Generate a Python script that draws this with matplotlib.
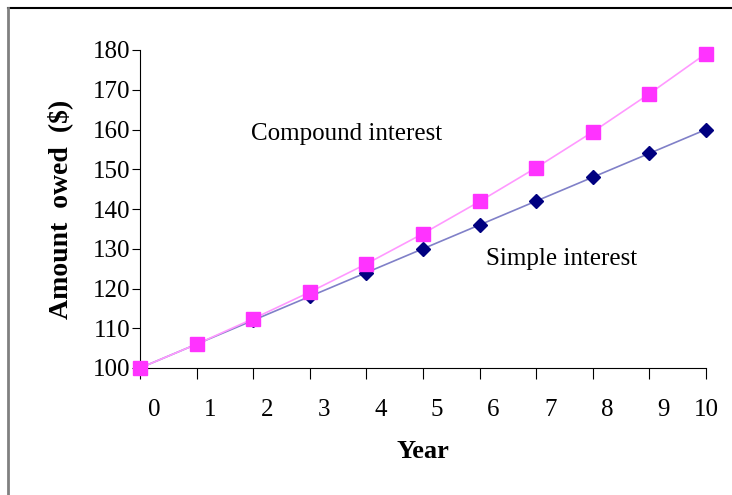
import matplotlib.pyplot as plt
from matplotlib.lines import Line2D
import matplotlib.transforms as mtransforms

years = [0, 1, 2, 3, 4, 5, 6, 7, 8, 9, 10]
simple = [100, 106, 112, 118, 124, 130, 136, 142, 148, 154, 160]
compound = [100, 106, 112.4, 119.1, 126.2, 133.8, 141.9, 150.4, 159.4, 169.0, 179.1]

plt.rcParams['font.family'] = ['Liberation Serif', 'DejaVu Serif']

fig = plt.figure(figsize=(7.32, 4.95), dpi=100)
W, H = 732, 495
ax = fig.add_axes([140 / W, 1 - 368 / H, (706 - 140) / W, (368 - 50) / H])

ax.plot(years, simple, color='#8080c8', lw=1.2, marker='D', markersize=7,
        markerfacecolor='#000080', markeredgecolor='#000080', zorder=3,
        clip_on=False)
ax.plot(years, compound, color='#ff99ff', lw=1.2, marker='s', markersize=10,
        markerfacecolor='#ff33ff', markeredgecolor='#ff33ff', zorder=4,
        clip_on=False)

ax.set_xlim(0, 10)
ax.set_ylim(100, 180)
ax.set_xticks(years)
ax.set_yticks(range(100, 181, 10))
ax.tick_params(axis='x', direction='out', length=8, pad=14, labelsize=18)
ax.tick_params(axis='y', direction='out', length=6, pad=1, labelsize=18)

# Excel-like label shift to the right of each tick
offset = mtransforms.ScaledTranslation(14 / 100, 0, fig.dpi_scale_trans)
for lab in ax.get_xticklabels()[:-1]:
    lab.set_transform(lab.get_transform() + offset)

for s in ['top', 'right']:
    ax.spines[s].set_visible(False)

ax.set_xlabel('Year', fontsize=19, fontweight='bold', labelpad=14)
ax.set_ylabel('Amount  owed  ($)', fontsize=20, fontweight='bold', labelpad=14)

ax.text(3.65, 158.8, 'Compound interest', fontsize=18, ha='center', va='center')
ax.text(7.45, 127.5, 'Simple interest', fontsize=18, ha='center', va='center')

# figure frame lines
fig.add_artist(Line2D([8 / W, 1], [1 - 8 / H, 1 - 8 / H], color='black', lw=1.5,
                      transform=fig.transFigure))
fig.add_artist(Line2D([8 / W, 8 / W], [0, 1 - 8 / H], color='#808080', lw=2,
                      transform=fig.transFigure))

fig.savefig('out.png', dpi=100)
